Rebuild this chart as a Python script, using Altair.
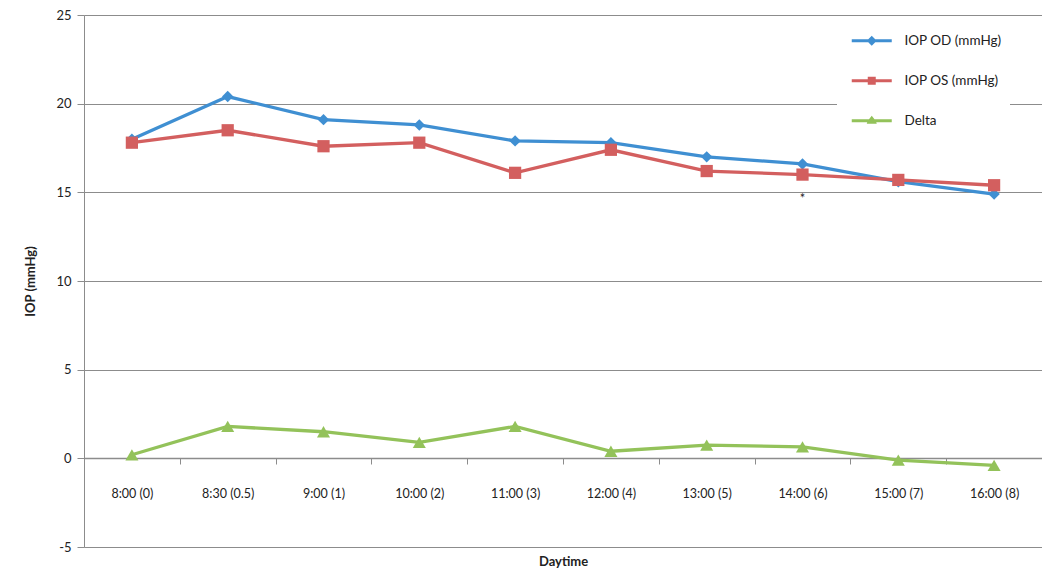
import altair as alt
import pandas as pd

categories = ["8:00 (0)", "8:30 (0.5)", "9:00 (1)", "10:00 (2)", "11:00 (3)",
              "12:00 (4)", "13:00 (5)", "14:00 (6)", "15:00 (7)", "16:00 (8)"]
series_names = ["IOP OD (mmHg)", "IOP OS (mmHg)", "Delta"]
iop_od = [18.0, 20.4, 19.1, 18.8, 17.9, 17.8, 17.0, 16.6, 15.6, 14.9]
iop_os = [17.8, 18.5, 17.6, 17.8, 16.1, 17.4, 16.2, 16.0, 15.7, 15.4]
delta = [0.2, 1.8, 1.5, 0.9, 1.8, 0.4, 0.75, 0.65, -0.1, -0.4]
annot_cat = ["14:00 (6)"]
annot_val = [14.6]
annot_text = ["*"]

colors = ["#3f8fd2", "#d35f5f", "#93c25a"]
shapes = ["diamond", "square", "triangle-up"]
sizes = [130, 170, 140]
legend_paths = [
    "M-4,-0.3H-0.7L0,-1L0.7,-0.3H4V0.3H0.7L0,1L-0.7,0.3H-4Z",
    "M-4,-0.3H-0.8V-0.8H0.8V-0.3H4V0.3H0.8V0.8H-0.8V0.3H-4Z",
    "M-4,-0.3H-0.55L0,-1L0.55,-0.3H4V0.3H0.9L1,0.6H-1L-0.9,0.3H-4Z",
]

rows = []
for name, vals in zip(series_names, [iop_od, iop_os, delta]):
    for c, v in zip(categories, vals):
        rows.append({"time": c, "series": name, "value": v})
df = pd.DataFrame(rows)
ann = pd.DataFrame({"time": annot_cat, "value": annot_val, "label": annot_text})

FONT = "Lato"
GRID = "#8c8c8c"

legend = alt.Legend(
    title=None, orient="none", legendX=753, legendY=11,
    fillColor="white", padding=8, labelFont=FONT, labelFontSize=13.5,
    labelColor="#222222", symbolSize=100, rowPadding=25,
    symbolOffset=20, labelOffset=26, symbolOpacity=1, symbolStrokeWidth=0,
)

color_enc = alt.Color("series:N", scale=alt.Scale(domain=series_names, range=colors),
                      legend=None)

y_enc = alt.Y("value:Q", scale=alt.Scale(domain=[-5, 25], nice=False),
              axis=alt.Axis(values=[-5, 0, 5, 10, 15, 20, 25], title="IOP (mmHg)",
                            labelExpr="'' + datum.value",
                            titleFont=FONT, titleFontSize=13, titleFontWeight="bold",
                            titleColor="#222222", titlePadding=18,
                            labelFont=FONT, labelFontSize=13, labelColor="#222222",
                            labelPadding=6, tickSize=7, tickColor=GRID,
                            domainColor=GRID, gridColor=GRID, gridWidth=1))

x_scale = alt.Scale(domain=categories, paddingInner=0, paddingOuter=0)

x_main = alt.X("time:N", scale=x_scale, sort=categories,
               axis=alt.Axis(title=None, orient="bottom", offset=-89, labelAngle=0,
                             tickBand="extent", grid=False, labelFont=FONT,
                             labelFontSize=12.5, labelColor="#222222", labelPadding=23,
                             tickSize=6, tickColor=GRID, domainColor=GRID, domainWidth=1.5))
x_none = alt.X("time:N", scale=x_scale, sort=categories, axis=None)

lines = alt.Chart(df).mark_line(strokeWidth=3.3).encode(
    x=x_main, y=y_enc, color=color_enc, detail="series:N")

points = alt.Chart(df).mark_point(filled=True, opacity=1).encode(
    x=x_none, y=y_enc, color=color_enc,
    shape=alt.Shape("series:N", scale=alt.Scale(domain=series_names, range=shapes), legend=None),
    size=alt.Size("series:N", scale=alt.Scale(domain=series_names, range=sizes), legend=None),
)

legend_layer = alt.Chart(df).mark_point(filled=True, opacity=0, size=100).encode(
    x=x_none, y=y_enc,
    color=alt.Color("series:N", scale=alt.Scale(domain=series_names, range=colors),
                    legend=legend, sort=series_names),
    shape=alt.Shape("series:N", scale=alt.Scale(domain=series_names, range=legend_paths),
                    legend=legend, sort=series_names),
)

stars = alt.Chart(ann).mark_text(fontSize=13, font=FONT, color="#222222", baseline="middle").encode(
    x=alt.X("time:N", scale=x_scale, sort=categories,
            axis=alt.Axis(title="Daytime", orient="bottom", labels=False, ticks=False,
                          domain=False, grid=False, titleFont=FONT, titleFontSize=13,
                          titleFontWeight="bold", titleColor="#222222", titlePadding=8)),
    y=y_enc, text="label:N")

chart = alt.layer(lines, points, legend_layer, stars).resolve_axis(
    x="independent"
).resolve_scale(shape="independent", color="independent").properties(
    width=958, height=532,
    autosize=alt.AutoSizeParams(type="none"),
    padding={"left": 76, "top": 7, "right": 0, "bottom": 24},
).configure_view(stroke=None).configure(background="white")

chart.save("out.html", embed_options={"renderer": "svg", "actions": False})
